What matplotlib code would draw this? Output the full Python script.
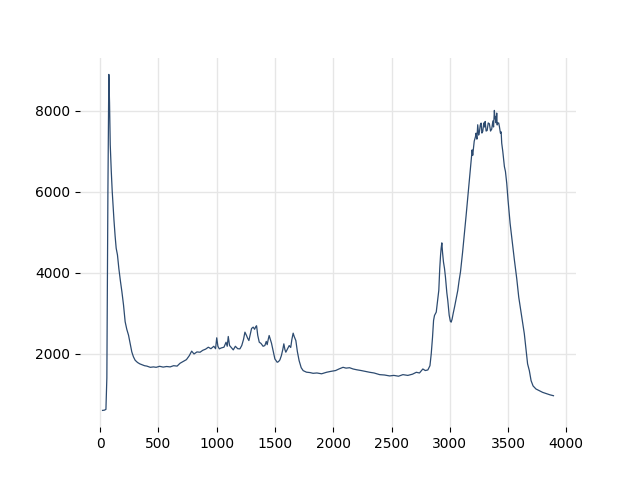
import matplotlib
matplotlib.use("Agg")
import matplotlib.pyplot as plt

# wavenumber-like axis and intensity
x = [20, 35, 49, 57, 66, 74, 80, 86, 95, 103, 108, 118, 128, 137, 148, 160, 173, 186,
     200, 214, 228, 243, 257, 271, 285, 300, 320, 340, 357, 380, 400, 430, 457, 480,
     510, 540, 570, 600, 630, 660, 685, 710, 740, 765, 785, 805, 830, 857, 880, 905,
     928, 950, 975, 990, 1000, 1010, 1022, 1040, 1062, 1080, 1090, 1099, 1110, 1125,
     1142, 1160, 1180, 1199, 1215, 1230, 1242, 1255, 1265, 1276, 1290, 1299, 1313,
     1325, 1336, 1342, 1352, 1365, 1380, 1398, 1413, 1425, 1433, 1442, 1450, 1460,
     1470, 1485, 1499, 1519, 1530, 1542, 1555, 1567, 1576, 1585, 1593, 1605, 1622,
     1635, 1645, 1656, 1665, 1679, 1692, 1707, 1725, 1742, 1770, 1800, 1827, 1860,
     1900, 1942, 1980, 2020, 2050, 2084, 2110, 2140, 2170, 2200, 2240, 2284, 2313,
     2350, 2398, 2440, 2484, 2520, 2560, 2598, 2640, 2680, 2713, 2740, 2769, 2790,
     2812, 2830, 2841, 2852, 2861, 2869, 2884, 2895, 2906, 2914, 2921, 2926, 2932,
     2938, 2946, 2955, 2963, 2975, 2983, 2995, 3005, 3012, 3020, 3030, 3041, 3055,
     3069, 3080, 3092, 3110, 3126, 3140, 3155, 3165, 3175, 3183, 3192, 3197, 3210,
     3221, 3226, 3233, 3240, 3248, 3255, 3262, 3269, 3276, 3283, 3292, 3298, 3304,
     3312, 3321, 3330, 3340, 3350, 3360, 3370, 3376, 3383, 3388, 3394, 3398, 3403,
     3407, 3412, 3420, 3426, 3435, 3441, 3446, 3455, 3463, 3469, 3478, 3489, 3500,
     3518, 3535, 3555, 3575, 3592, 3610, 3626, 3640, 3655, 3668, 3683, 3698, 3715,
     3740, 3769, 3797, 3830, 3860, 3890]
y = [595, 600, 620, 1400, 6000, 8900, 8200, 7165, 6500, 6009, 5762, 5300, 4900, 4604,
     4438, 4100, 3800, 3530, 3200, 2786, 2600, 2454, 2250, 2042, 1920, 1834, 1780,
     1745, 1727, 1700, 1690, 1660, 1670, 1660, 1685, 1665, 1680, 1670, 1700, 1690,
     1760, 1800, 1850, 1950, 2060, 1990, 2040, 2033, 2080, 2110, 2157, 2120, 2180,
     2120, 2389, 2180, 2116, 2140, 2157, 2280, 2180, 2422, 2200, 2150, 2091, 2180,
     2120, 2116, 2200, 2350, 2529, 2450, 2380, 2322, 2500, 2620, 2653, 2600, 2670,
     2687, 2450, 2281, 2250, 2180, 2198, 2300, 2220, 2350, 2446, 2350, 2256, 2050,
     1868, 1785, 1800, 1843, 1950, 2100, 2240, 2100, 2033, 2100, 2198, 2150, 2350,
     2504, 2420, 2322, 2050, 1826, 1650, 1578, 1540, 1530, 1512, 1520, 1500, 1537,
     1560, 1580, 1620, 1660, 1640, 1650, 1619, 1600, 1580, 1553, 1537, 1520, 1479,
     1470, 1447, 1460, 1440, 1479, 1460, 1490, 1537, 1520, 1619, 1580, 1595, 1700,
     1993, 2400, 2818, 2942, 3024, 3300, 3563, 4100, 4430, 4600, 4736, 4500, 4264,
     4100, 3892, 3500, 3314, 2950, 2800, 2776, 2850, 3000, 3148, 3350, 3563, 3800,
     4017, 4500, 4968, 5400, 5876, 6200, 6538, 6786, 7034, 6900, 7250, 7364, 7448,
     7300, 7655, 7400, 7489, 7650, 7696, 7450, 7489, 7700, 7600, 7737, 7500, 7514,
     7700, 7680, 7500, 7547, 7750, 7600, 8010, 7800, 7861, 7700, 7944, 7650, 7696,
     7700, 7612, 7448, 7480, 7200, 7000, 6786, 6620, 6500, 6209, 5800, 5216, 4800,
     4306, 3850, 3396, 3050, 2736, 2488, 2100, 1745, 1578, 1330, 1200, 1124, 1082,
     1041, 1010, 980, 958]

fig, ax = plt.subplots()
ax.plot(x, y, color='#2d4b70', linewidth=0.9)
ax.grid(True, color='#e6e6e6', linewidth=1)
ax.set_axisbelow(True)
for s in ax.spines.values():
    s.set_visible(False)
plt.savefig('out.png')
